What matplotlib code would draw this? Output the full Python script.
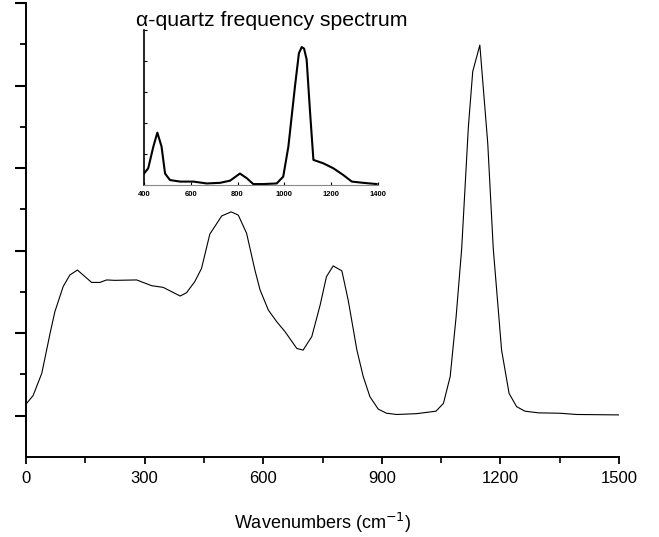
import matplotlib
matplotlib.use("Agg")
import matplotlib.pyplot as plt
from matplotlib.ticker import MultipleLocator, FixedLocator

plt.rcParams['font.family'] = ['Liberation Sans', 'DejaVu Sans']

# Main spectrum (wavenumber, intensity in arbitrary units)
main_x = [0, 18, 40, 61, 73, 94, 111, 130, 166, 187, 204, 225, 280, 318, 347,
          390, 406, 427, 444, 465, 495, 519, 537, 558, 579, 592, 613, 634, 655,
          685, 701, 723, 744, 760, 777, 799, 815, 837, 853, 870, 891, 912, 938,
          988, 1037, 1056, 1073, 1088, 1102, 1119, 1130, 1148, 1168, 1182, 1203,
          1222, 1241, 1262, 1296, 1351, 1393, 1500]
main_y = [1.28, 1.49, 2.03, 3.00, 3.52, 4.13, 4.41, 4.53, 4.23, 4.23, 4.29, 4.28,
          4.29, 4.15, 4.11, 3.90, 3.98, 4.25, 4.57, 5.40, 5.84, 5.94, 5.86, 5.42,
          4.53, 4.05, 3.56, 3.28, 3.04, 2.63, 2.59, 2.92, 3.68, 4.37, 4.63, 4.51,
          3.80, 2.59, 1.95, 1.46, 1.16, 1.06, 1.03, 1.05, 1.11, 1.30, 1.95, 3.40,
          5.04, 8.00, 9.34, 9.98, 7.60, 5.04, 2.59, 1.54, 1.22, 1.11, 1.07, 1.06,
          1.03, 1.02]

# Inset: alpha-quartz frequency spectrum
inset_x = [400, 418, 440, 457, 475, 490, 511, 554, 611, 668, 725, 768, 810, 839,
           867, 910, 967, 995, 1017, 1045, 1062, 1074, 1084, 1095, 1109, 1124,
           1166, 1209, 1252, 1288, 1337, 1394]
inset_y = [0.37, 0.54, 1.24, 1.69, 1.24, 0.37, 0.16, 0.11, 0.11, 0.05, 0.07, 0.14,
           0.37, 0.22, 0.03, 0.03, 0.05, 0.27, 1.24, 3.17, 4.25, 4.45, 4.40, 4.05,
           2.42, 0.81, 0.70, 0.54, 0.32, 0.11, 0.07, 0.03]

main_xticks = [0, 300, 600, 900, 1200, 1500]
inset_xticks = [400, 600, 800, 1000, 1200, 1400]

fig = plt.figure(figsize=(6.59, 5.37), dpi=100)
ax = fig.add_axes([26/659, 80/537, 593/659, 454/537])
ax.plot(main_x, main_y, color='black', lw=0.8)
ax.set_xlim(0, 1500)
ax.set_ylim(0, 11)
ax.spines['top'].set_visible(False)
ax.spines['right'].set_visible(False)
for s in ['left', 'bottom']:
    ax.spines[s].set_linewidth(1.4)
ax.xaxis.set_major_locator(FixedLocator(main_xticks))
ax.xaxis.set_minor_locator(MultipleLocator(150))
ax.yaxis.set_major_locator(FixedLocator([1, 3, 5, 7, 9, 11]))
ax.yaxis.set_minor_locator(FixedLocator([2, 4, 6, 8, 10]))
ax.set_yticklabels([])
ax.tick_params(axis='x', which='major', direction='out', length=5, width=1.3,
               labelsize=12, pad=5)
ax.tick_params(axis='x', which='minor', direction='out', length=4, width=1.2)
ax.tick_params(axis='y', which='major', direction='out', length=8, width=1.5)
ax.tick_params(axis='y', which='minor', direction='out', length=4, width=1.3)
ax.set_xlabel('Wavenumbers (cm$^{-1}$)', fontsize=13, labelpad=18)

ins = fig.add_axes([144/659, 352/537, 234/659, 155/537])
ins.plot(inset_x, inset_y, color='black', lw=1.5)
ins.set_xlim(400, 1400)
ins.set_ylim(0, 5)
ins.spines['top'].set_visible(False)
ins.spines['right'].set_visible(False)
ins.spines['left'].set_linewidth(1.2)
ins.spines['bottom'].set_linewidth(0.8)
ins.spines['bottom'].set_color('#888888')
ins.xaxis.set_major_locator(FixedLocator(inset_xticks))
ins.yaxis.set_major_locator(MultipleLocator(1))
ins.set_yticklabels([])
ins.tick_params(axis='x', direction='in', length=2, width=0.8, labelsize=5.5, pad=4)
ins.tick_params(axis='y', direction='in', length=2, width=0.8)
for lbl in ins.get_xticklabels():
    lbl.set_fontweight('bold')
ins.set_title('\u03b1-quartz frequency spectrum', fontsize=15.3, pad=0, x=0.548)
ins.patch.set_alpha(0)

fig.savefig('out.png', dpi=100)
